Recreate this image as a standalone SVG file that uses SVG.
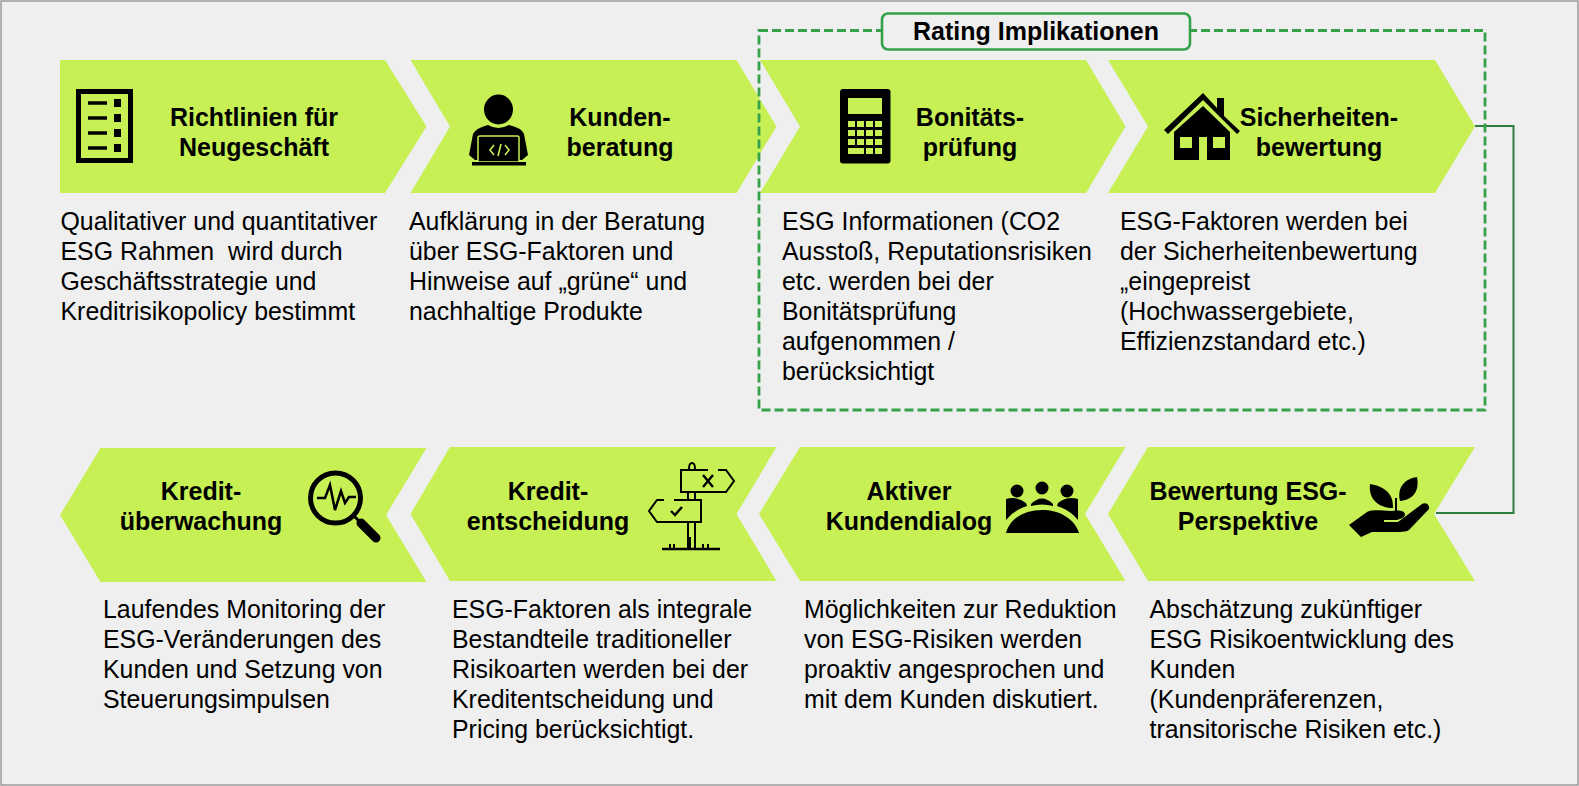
<svg xmlns="http://www.w3.org/2000/svg" width="1579" height="786" viewBox="0 0 1579 786">
<style>
text{font-family:"Liberation Sans",Arial,sans-serif;fill:#000;white-space:pre}
.h{font-size:25px;font-weight:700;text-anchor:middle}
.b{font-size:24.900px}
.c{fill:#c6f053}
.i{fill:#000}
.o{fill:none;stroke:#000}
.d{fill:none;stroke:#35a24a;stroke-width:2.800;stroke-dasharray:9 4}
</style>
<rect x="1" y="1" width="1577" height="784" fill="#efefef" stroke="#999" stroke-width="1.5"/>
<g id="connectors">
<path d="M1475 126H1513.500V513H1436" fill="none" stroke="#2e7d3f" stroke-width="2"/>
</g>
<g id="n1"><polygon class="c" points="60,60 385,60 426.500,126.500 385,193 60,193"/>
<path class="o" stroke-width="5" d="M78.500 91.500H130.500V160.500H78.500Z"/>
<path class="o" stroke-width="3.500" d="M88 103H107M88 118H107M88 133H107M88 148H107"/>
<path class="i" d="M114 99h7v8h-7zM114 114h7v8h-7zM114 129h7v8h-7zM114 144h7v8h-7z"/>
<text class="h" x="254" y="126">Richtlinien für</text><text class="h" x="254" y="156">Neugeschäft</text>
<text class="b" x="60.500" y="230">Qualitativer und quantitativer</text><text class="b" x="60.500" y="260">ESG Rahmen  wird durch</text><text class="b" x="60.500" y="290">Geschäftsstrategie und</text><text class="b" x="60.500" y="320">Kreditrisikopolicy bestimmt</text></g>
<g id="n2"><polygon class="c" points="410.500,60 736.500,60 776.500,126.500 736.500,193 410.500,193 450,126.500"/>
<ellipse class="i" cx="498.500" cy="109.500" rx="14.500" ry="15"/>
<path class="i" d="M488 125Q498 131 509 125Q522 128 524 134L528 155L522 160H475L469 155L473 134Q476 128 488 125Z"/>
<path class="i" stroke="#c6f053" stroke-width="1.500" d="M478 137Q478 136 480 136H517Q519 136 519 137V162H478Z"/>
<rect class="i" x="472" y="162" width="54" height="3.500"/>
<path fill="none" stroke="#c6f053" stroke-width="1.600" d="M494 145L490 150L494 155M498 156L501 144M505 145L509 150L505 155"/>
<text class="h" x="620" y="126">Kunden-</text><text class="h" x="620" y="156">beratung</text>
<text class="b" x="409" y="230">Aufklärung in der Beratung</text><text class="b" x="409" y="260">über ESG-Faktoren und</text><text class="b" x="409" y="290">Hinweise auf „grüne“ und</text><text class="b" x="409" y="320">nachhaltige Produkte</text></g>
<g id="n3"><polygon class="c" points="760,60 1086,60 1125.500,126.500 1086,193 760,193 800,126.500"/>
<rect class="i" x="840" y="89" width="50.500" height="74.500" rx="3"/>
<rect class="c" x="848" y="98" width="34" height="16"/>
<path class="c" d="M848 121h7v6h-7zM857 121h7v6h-7zM866 121h7v6h-7zM875 121h7v6h-7zM848 130h7v6h-7zM857 130h7v6h-7zM866 130h7v6h-7zM875 130h7v6h-7zM848 139h7v6h-7zM857 139h7v6h-7zM866 139h7v6h-7zM875 139h7v6h-7zM848 148h16v6h-16zM866 148h7v6h-7zM875 148h7v6h-7z"/>
<text class="h" x="970" y="126">Bonitäts-</text><text class="h" x="970" y="156">prüfung</text>
<text class="b" x="782" y="230">ESG Informationen (CO2</text><text class="b" x="782" y="260">Ausstoß, Reputationsrisiken</text><text class="b" x="782" y="290">etc. werden bei der</text><text class="b" x="782" y="320">Bonitätsprüfung</text><text class="b" x="782" y="350">aufgenommen /</text><text class="b" x="782" y="380">berücksichtigt</text></g>
<g id="n4"><polygon class="c" points="1108,60 1435,60 1475,126.500 1435,193 1108,193 1148,126.500"/>
<path class="i" d="M1203 93L1217 108V98H1224V116L1240 131L1237 134L1203 100L1168 134L1164 130Z"/>
<path class="i" d="M1203 106L1230 132V160H1207V137H1199V160H1174V132ZM1180 137V148H1192V137ZM1213 137V148H1225V137Z"/>
<text class="h" x="1319" y="126">Sicherheiten-</text><text class="h" x="1319" y="156">bewertung</text>
<text class="b" x="1120" y="230">ESG-Faktoren werden bei</text><text class="b" x="1120" y="260">der Sicherheitenbewertung</text><text class="b" x="1120" y="290">„eingepreist</text><text class="b" x="1120" y="320">(Hochwassergebiete,</text><text class="b" x="1120" y="350">Effizienzstandard etc.)</text></g>
<g id="n5"><polygon class="c" points="1148,447 1475,447 1434,514 1475,581 1148,581 1108,514"/>
<path class="i" d="M1370 484C1382 486 1394 492 1393 508C1380 508 1368 500 1370 484ZM1417 477C1420 492 1412 500 1400 501C1397 488 1404 479 1417 477Z"/>
<path fill="none" stroke="#000" stroke-width="2" d="M1396 511V498"/>
<path class="i" d="M1349 525L1367 512C1374 509 1382 511 1391 511C1398 510 1405 510 1405 515C1404 518 1400 519 1397 520H1384V522H1398L1422 504C1426 502 1430 505 1429 509L1409 530C1406 532 1400 532 1391 532H1372L1361 537Z"/>
<text class="h" x="1248" y="500">Bewertung ESG-</text><text class="h" x="1248" y="530">Perspektive</text>
<text class="b" x="1149.500" y="618">Abschätzung zukünftiger</text><text class="b" x="1149.500" y="648">ESG Risikoentwicklung des</text><text class="b" x="1149.500" y="678">Kunden</text><text class="b" x="1149.500" y="708">(Kundenpräferenzen,</text><text class="b" x="1149.500" y="738">transitorische Risiken etc.)</text></g>
<g id="n6"><polygon class="c" points="800,447 1125.500,447 1085,514 1125.500,581 800,581 759,514"/>
<ellipse class="i" cx="1017" cy="491" rx="6.500" ry="6.500"/><ellipse class="i" cx="1042" cy="488" rx="6.500" ry="6.500"/><ellipse class="i" cx="1067" cy="491" rx="6.500" ry="6.500"/>
<path class="i" d="M1006 499Q1017 496 1026 503L1027 506Q1014 510 1006 520ZM1031 504Q1042 493 1053 504V506Q1042 503 1031 506ZM1058 503Q1067 496 1078 499V520Q1070 510 1057 506Z"/>
<path class="i" d="M1006 533C1010 518 1025 510 1042 510C1059 510 1074 518 1079 533Z"/>
<text class="h" x="909" y="500">Aktiver</text><text class="h" x="909" y="530">Kundendialog</text>
<text class="b" x="804" y="618">Möglichkeiten zur Reduktion</text><text class="b" x="804" y="648">von ESG-Risiken werden</text><text class="b" x="804" y="678">proaktiv angesprochen und</text><text class="b" x="804" y="708">mit dem Kunden diskutiert.</text></g>
<g id="n7"><polygon class="c" points="450,447 776.500,447 736.500,514 776.500,581 450,581 410.500,514"/>
<g fill="none" stroke="#000" stroke-width="2"><path d="M718 470H726L734 481L726 492H681V470H708"/><path d="M689 469Q689 463 692 463Q695 463 695 469M688 493V499M695 493V499M702 500H701V522H657L649 511L657 500H664M674 500H702"/><path d="M688 522V549M695 522V549M690 537V549"/><path stroke-width="2.400" d="M713 475L703 487M703 475L713 487M671 511L675 515L682 507"/><path stroke-width="2.600" d="M662 549H720"/><path d="M670 548V544M674 548V544M703 548V544M708 548V544"/></g>
<text class="h" x="548" y="500">Kredit-</text><text class="h" x="548" y="530">entscheidung</text>
<text class="b" x="452" y="618">ESG-Faktoren als integrale</text><text class="b" x="452" y="648">Bestandteile traditioneller</text><text class="b" x="452" y="678">Risikoarten werden bei der</text><text class="b" x="452" y="708">Kreditentscheidung und</text><text class="b" x="452" y="738">Pricing berücksichtigt.</text></g>
<g id="n8"><polygon class="c" points="100.500,448 426.500,448 386,515 426.500,582 100.500,582 60,515"/>
<circle class="o" stroke-width="5" cx="335.500" cy="498" r="25"/>
<path class="o" stroke-width="2.500" d="M317 498H325L330 485L335 510L341 491L345 503L349 497H356"/>
<path class="o" stroke-width="3" d="M354 516L360 522"/>
<path class="o" stroke-width="9" stroke-linecap="round" d="M361 523L376 538"/>
<text class="h" x="201" y="500">Kredit-</text><text class="h" x="201" y="530">überwachung</text>
<text class="b" x="103" y="618">Laufendes Monitoring der</text><text class="b" x="103" y="648">ESG-Veränderungen des</text><text class="b" x="103" y="678">Kunden und Setzung von</text><text class="b" x="103" y="708">Steuerungsimpulsen</text></g>
<g id="rating">
<rect class="d" x="759" y="30.500" width="726" height="379.500"/>
<rect x="882" y="13.500" width="308" height="36" rx="6" fill="#efefef" stroke="#35a24a" stroke-width="2.600"/>
<text class="h" x="1036" y="40">Rating Implikationen</text>
</g>
</svg>
